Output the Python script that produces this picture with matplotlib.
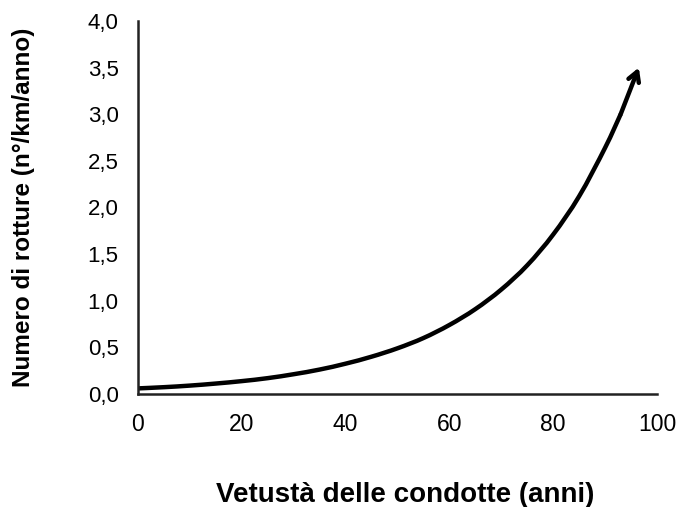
import matplotlib
matplotlib.use("Agg")
import matplotlib.pyplot as plt
from matplotlib.path import Path
from matplotlib.patches import PathPatch

# Data
eta_anni = [0, 5, 10, 15, 20, 25, 30, 35, 40, 45, 50, 55, 60, 65, 70, 75, 80, 85, 90, 93, 96.5]
rotture = [0.060, 0.073, 0.090, 0.112, 0.138, 0.170, 0.212, 0.262, 0.325, 0.40, 0.49, 0.60,
           0.74, 0.91, 1.12, 1.38, 1.71, 2.12, 2.64, 3.00, 3.50]
x_ticks = [0, 20, 40, 60, 80, 100]
y_ticks = [0.0, 0.5, 1.0, 1.5, 2.0, 2.5, 3.0, 3.5, 4.0]
y_labels = ["0,0", "0,5", "1,0", "1,5", "2,0", "2,5", "3,0", "3,5", "4,0"]

plt.rcParams['font.family'] = ['Liberation Sans', 'DejaVu Sans']

fig = plt.figure(figsize=(6.82, 5.07), dpi=100)
ax = fig.add_axes([0.2023, 0.2229, 0.7610, 0.7357])
ax.set_xlim(0, 100)
ax.set_ylim(0, 4.0)

# smooth curve (Catmull-Rom through the read points, as cubic Bezier segments)
pts = list(zip(eta_anni[:-1], rotture[:-1]))
verts = [pts[0]]
codes = [Path.MOVETO]
n = len(pts)
for i in range(n - 1):
    p0 = pts[i - 1] if i > 0 else pts[i]
    p1 = pts[i]
    p2 = pts[i + 1]
    p3 = pts[i + 2] if i + 2 < n else pts[i + 1]
    c1 = (p1[0] + (p2[0] - p0[0]) / 6, p1[1] + (p2[1] - p0[1]) / 6)
    c2 = (p2[0] - (p3[0] - p1[0]) / 6, p2[1] - (p3[1] - p1[1]) / 6)
    verts += [c1, c2, p2]
    codes += [Path.CURVE4] * 3
ax.add_patch(PathPatch(Path(verts, codes), facecolor='none', edgecolor='black',
                       lw=3.2, capstyle='butt'))
ax.annotate('', xy=(eta_anni[-1], rotture[-1]), xytext=(eta_anni[-2], rotture[-2]),
            arrowprops=dict(arrowstyle='->,head_length=0.7,head_width=0.4',
                            color='black', lw=3.2, shrinkA=0, shrinkB=0))

ax.set_xticks(x_ticks)
ax.set_xticklabels([str(t) for t in x_ticks])
ax.set_yticks(y_ticks)
ax.set_yticklabels(y_labels)
ax.tick_params(length=0, pad=14)
ax.tick_params(axis='x', labelsize=16.5)
ax.tick_params(axis='y', labelsize=16)
for s in ['top', 'right']:
    ax.spines[s].set_visible(False)
for s in ['left', 'bottom']:
    ax.spines[s].set_linewidth(1.8)
    ax.spines[s].set_color('#222222')

ax.set_xlabel('Vetustà delle condotte (anni)', fontsize=20, fontweight='bold', labelpad=33)
ax.xaxis.label.set_x(0.514)
ax.set_ylabel('Numero di rotture (n°/km/anno)', fontsize=17.5, fontweight='bold', labelpad=38)

fig.savefig('out.png', dpi=100)
